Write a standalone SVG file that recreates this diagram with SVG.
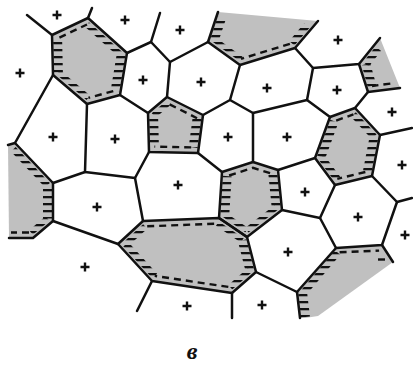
<svg xmlns="http://www.w3.org/2000/svg" width="413" height="365" viewBox="0 0 413 365">
<style>
.bg{fill:#fff}
.g{fill:#c0c0c0;stroke:none}
.e{fill:none;stroke:#111;stroke-width:2.5;stroke-linejoin:round;stroke-linecap:round}
.d{fill:none;stroke:#111;stroke-width:2.4;stroke-dasharray:7 5;stroke-dashoffset:-2}
.p{fill:none;stroke:url(#hs)}
.plus{fill:none;stroke:#111;stroke-width:2.4}
.lbl{font-family:"Liberation Serif",serif;font-style:italic;font-weight:bold;font-size:24px;fill:#111}
</style>
<defs>
<pattern id="hs" width="8" height="7" patternUnits="userSpaceOnUse">
<rect x="0" y="0" width="8" height="2.3" fill="#111"/>
</pattern>
</defs>
<rect class="bg" x="0" y="0" width="413" height="365"/>

<g id="cell-hex-left">
<polygon class="g" points="52,35 88,18 127,53 120,95 87,104 53,75"/>
<path class="p" stroke-width="6" d="M87,24.5 L121.1,55.1"/>
<path class="p" stroke-width="8.9" d="M121.1,55.1 L115.2,90.6"/>
<path class="p" stroke-width="5.8" d="M88.4,97.9 L58.4,72.4"/>
<path class="p" stroke-width="9" d="M58.4,72.4 L57.6,38.4"/>
<path class="d" d="M57.6,38.4 L87,24.5"/>
<path class="d" d="M115.2,90.6 L88.4,97.9"/>
</g>

<g id="cell-pentagon">
<polygon class="g" points="148,113 167,97 203,115 198,153 149,152"/>
<path class="p" stroke-width="5.8" d="M153.6,115.5 L167.8,103.5"/>
<path class="p" stroke-width="8.9" d="M197,118.2 L193.2,147.4"/>
<path class="p" stroke-width="9" d="M154.4,146.6 L153.6,115.5"/>
<path class="d" d="M167.8,103.5 L197,118.2"/>
<path class="d" d="M193.2,147.4 L154.4,146.6"/>
</g>

<g id="cell-top">
<polygon class="g" points="218,12 318,21 295,48 240,65 208,42"/>
<path class="p" stroke-width="6.9" d="M306.9,25.5 L291.8,43.2"/>
<path class="p" stroke-width="5.3" d="M241,58.9 L214.5,39.9"/>
<path class="p" stroke-width="8.5" d="M214.5,39.9 L221.8,17.9"/>
<path class="d" d="M291.8,43.2 L241,58.9"/>
</g>

<g id="cell-right-small">
<polygon class="g" points="360,63 380,38 400,88 368,92"/>
<path class="d" d="M392.3,83.4 L372,86"/>
<path class="p" stroke-width="8.7" d="M372,86 L366,64.2"/>
<path class="p" stroke-width="7" d="M366,64.2 L378.4,48.8"/>
</g>

<g id="cell-right-mid">
<polygon class="g" points="330,117 355,108 380,135 372,176 335,185 315,158"/>
<path class="d" d="M334.3,121.3 L353.4,114.4"/>
<path class="d" d="M367.3,171.5 L337.3,178.8"/>
<path class="p" stroke-width="6.6" d="M353.4,114.4 L374.1,136.7"/>
<path class="p" stroke-width="8.8" d="M374.1,136.7 L367.3,171.5"/>
<path class="p" stroke-width="7.2" d="M337.3,178.8 L321.2,157.1"/>
<path class="p" stroke-width="8.5" d="M321.2,157.1 L334.3,121.3"/>
</g>

<g id="cell-hex-mid">
<polygon class="g" points="222,172 253,162 278,170 282,210 247,237 219,218"/>
<path class="d" d="M227.2,176.1 L253,167.8 L272.9,174.1"/>
<path class="p" stroke-width="9" d="M272.9,174.1 L276.2,207.5"/>
<path class="p" stroke-width="5.5" d="M276.2,207.5 L246.8,230.2"/>
<path class="p" stroke-width="5.1" d="M246.8,230.2 L224.7,215.2"/>
<path class="p" stroke-width="9" d="M224.7,215.2 L227.2,176.1"/>
</g>

<g id="cell-big-bottom">
<polygon class="g" points="118,244 143,221 219,218 247,237 256,272 232,293 152,281"/>
<path class="p" stroke-width="6.1" d="M125.8,244.3 L145.2,226.4"/>
<path class="p" stroke-width="5.1" d="M217.4,223.6 L242.2,240.4"/>
<path class="p" stroke-width="8.7" d="M242.2,240.4 L249.8,270.1"/>
<path class="p" stroke-width="5.9" d="M249.8,270.1 L230.3,287.2"/>
<path class="p" stroke-width="6.6" d="M154.7,275.9 L125.8,244.3"/>
<path class="d" d="M145.2,226.4 L217.4,223.6"/>
<path class="d" d="M230.3,287.2 L154.7,275.9"/>
</g>

<g id="cell-left">
<polygon class="g" points="8,145 15,143 53,183 53,221 33,238 9,238"/>
<path class="p" stroke-width="6.5" d="M13.3,149.2 L47.5,185.2"/>
<path class="p" stroke-width="9" d="M47.5,185.2 L47.5,218.5"/>
<path class="p" stroke-width="5.8" d="M47.5,218.5 L31,232.5"/>
<path class="d" d="M31,232.5 L11,232.5"/>
</g>

<g id="cell-bottom-right">
<polygon class="g" points="297,292 336,248 382,245 393,262 318,316 305,318 300,318"/>
<path class="p" stroke-width="9" d="M305.5,317 L302.7,293.7"/>
<path class="p" stroke-width="6.9" d="M302.7,293.7 L337.6,252.4"/>
<path class="d" d="M337.6,252.4 L379.1,250.6"/>
<path d="M378,259.5 L385,259.5" stroke="#111" stroke-width="2.4"/>
</g>

<g id="connectors">
<path class="e" d="M27,15 L52,35"/>
<path class="e" d="M52,35 L88,18 L127,53 L120,95 L87,104 L53,75 Z"/>
<path class="e" d="M88,18 L92,8"/>
<path class="e" d="M127,53 L151,42 L160,13"/>
<path class="e" d="M151,42 L170,62 L208,42"/>
<path class="e" d="M208,42 L218,12"/>
<path class="e" d="M208,42 L240,65 L295,48 L318,21"/>
<path class="e" d="M240,65 L230,100 L203,115"/>
<path class="e" d="M230,100 L253,113 L307,100 L313,68 L295,48"/>
<path class="e" d="M313,68 L359,64 L380,38"/>
<path class="e" d="M359,64 L368,92 L400,88"/>
<path class="e" d="M368,92 L355,108 L330,117 L307,100"/>
<path class="e" d="M355,108 L380,135 L412,128"/>
<path class="e" d="M380,135 L372,176 L335,185 L315,158 L330,117"/>
<path class="e" d="M170,62 L167,97"/>
<path class="e" d="M120,95 L148,113"/>
<path class="e" d="M148,113 L167,97 L203,115 L198,153 L149,152 Z"/>
<path class="e" d="M253,113 L253,162"/>
<path class="e" d="M315,158 L278,170"/>
<path class="e" d="M222,172 L253,162 L278,170 L282,210 L247,237 L219,218 Z"/>
<path class="e" d="M198,153 L222,172"/>
<path class="e" d="M149,152 L135,178 L85,172 L87,104"/>
<path class="e" d="M85,172 L53,183 L15,143 L53,75"/>
<path class="e" d="M15,143 L8,145"/>
<path class="e" d="M53,183 L53,221 L33,238 L9,238"/>
<path class="e" d="M135,178 L143,221"/>
<path class="e" d="M53,221 L118,244"/>
<path class="e" d="M118,244 L143,221 L219,218 L247,237 L256,272 L232,293 L152,281 Z"/>
<path class="e" d="M152,281 L137,311"/>
<path class="e" d="M232,293 L232,318"/>
<path class="e" d="M256,272 L297,292 L300,318"/>
<path class="e" d="M297,292 L336,248 L320,218 L282,210"/>
<path class="e" d="M320,218 L335,185"/>
<path class="e" d="M336,248 L382,245 L397,202 L372,176"/>
<path class="e" d="M397,202 L412,198"/>
<path class="e" d="M382,245 L393,262"/>
</g>

<g id="plus-signs" class="plus">
<path d="M52.5,15h9M57,10.5v9"/>
<path d="M120.5,20h9M125,15.5v9"/>
<path d="M175.5,30h9M180,25.5v9"/>
<path d="M333.5,40h9M338,35.5v9"/>
<path d="M15.5,73h9M20,68.5v9"/>
<path d="M138.5,80h9M143,75.5v9"/>
<path d="M196.5,82h9M201,77.5v9"/>
<path d="M262.5,88h9M267,83.5v9"/>
<path d="M332.5,90h9M337,85.5v9"/>
<path d="M387.5,112h9M392,107.5v9"/>
<path d="M48.5,137h9M53,132.5v9"/>
<path d="M110.5,139h9M115,134.5v9"/>
<path d="M223.5,137h9M228,132.5v9"/>
<path d="M282.5,137h9M287,132.5v9"/>
<path d="M173.5,185h9M178,180.5v9"/>
<path d="M92.5,207h9M97,202.5v9"/>
<path d="M300.5,192h9M305,187.5v9"/>
<path d="M397.5,165h9M402,160.5v9"/>
<path d="M353.5,217h9M358,212.5v9"/>
<path d="M400.5,235h9M405,230.5v9"/>
<path d="M283.5,252h9M288,247.5v9"/>
<path d="M80.5,267h9M85,262.5v9"/>
<path d="M182.5,306h9M187,301.5v9"/>
<path d="M257.5,305h9M262,300.5v9"/>
</g>

<text class="lbl" x="192" y="359" text-anchor="middle">в</text>
</svg>
